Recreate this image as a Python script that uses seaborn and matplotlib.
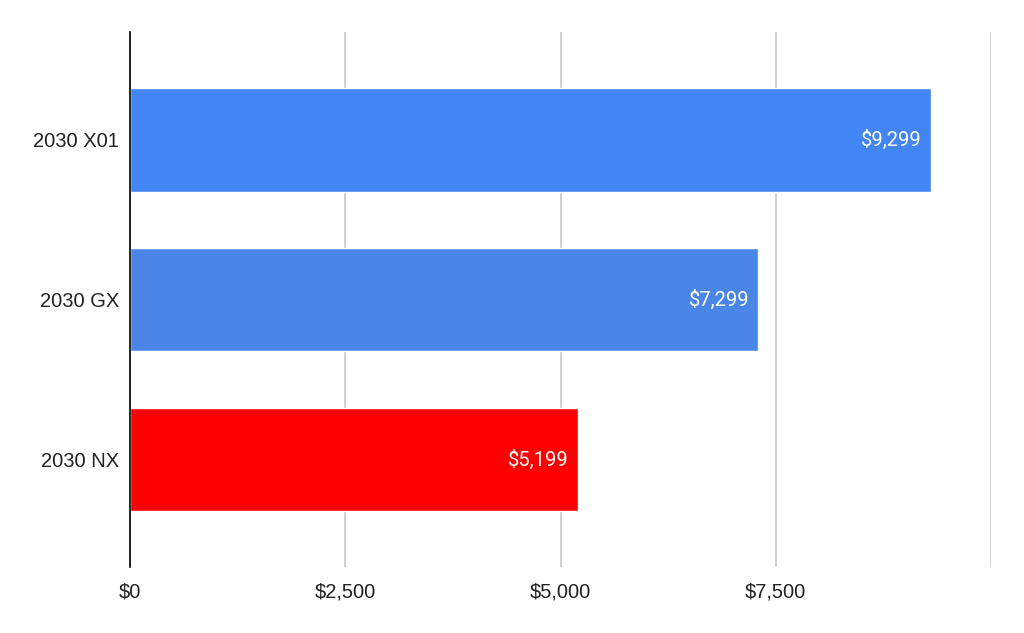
import seaborn as sns
import matplotlib.pyplot as plt
import pandas as pd

models = ['2030 X01', '2030 GX', '2030 NX']
prices = [9299, 7299, 5199]
bar_colors = ['#4285F4', '#4A86E8', '#FF0000']
x_ticks = [0, 2500, 5000, 7500, 10000]
x_tick_labels = ['$0', '$2,500', '$5,000', '$7,500', '']

df = pd.DataFrame({'model': models, 'price': prices})

sns.set_style('white')
plt.rcParams['font.family'] = ['Liberation Sans', 'DejaVu Sans']

fig = plt.figure(figsize=(10.24, 6.33), dpi=100)
ax = fig.add_axes([130 / 1024, 1 - 567 / 633, 861 / 1024, 535 / 633])

sns.barplot(data=df, x='price', y='model', hue='model', orient='h',
            palette=dict(zip(models, bar_colors)), width=0.645,
            saturation=1, legend=False, ax=ax, zorder=3)

ax.set_xlim(0, 10000)
ax.set_ylim(2.67, -0.675)
ax.set_xticks(x_ticks)
ax.set_xticklabels(x_tick_labels)
ax.grid(axis='x', color='#cccccc', linewidth=1.3, zorder=0)
ax.set_axisbelow(True)
ax.tick_params(axis='x', length=0, pad=11, labelsize=14.5, colors='#222222')
ax.tick_params(axis='y', length=0, pad=8, labelsize=14.5, colors='#222222')
ax.set_xlabel('')
ax.set_ylabel('')

for s in ['top', 'right', 'bottom']:
    ax.spines[s].set_visible(False)
ax.spines['left'].set_color('black')
ax.spines['left'].set_linewidth(1.2)
ax.spines['left'].set_zorder(5)

for i, p in enumerate(prices):
    ax.annotate(f'${p:,}', xy=(p, i), xytext=(-6.5, 0), textcoords='offset points',
                ha='right', va='center', color='white', fontsize=14.5,
                family=['Roboto', 'DejaVu Sans'], zorder=4)

plt.savefig('out.png', dpi=100)
plt.close()
